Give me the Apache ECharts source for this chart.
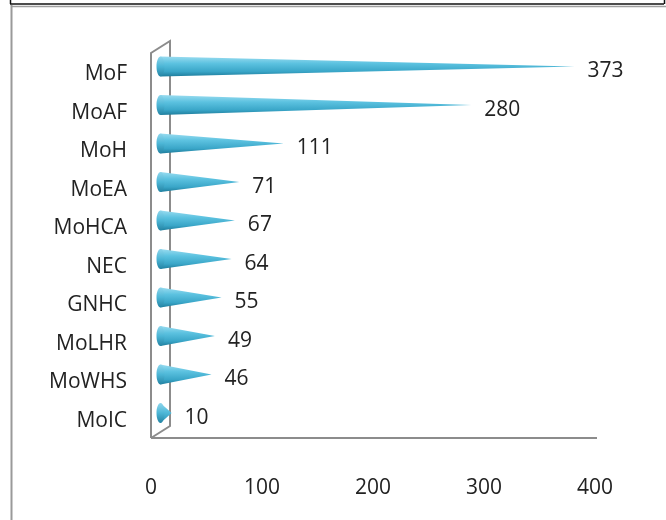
<!DOCTYPE html>
<html>
<head>
<meta charset="utf-8">
<script src="https://cdn.jsdelivr.net/npm/echarts@6/dist/echarts.min.js"></script>
<style>
  html, body { margin: 0; padding: 0; background: #fff; }
  #chart { width: 666px; height: 520px; }
</style>
</head>
<body>
<div id="chart"></div>
<script>
// Submissions per organisation
const categories = ['MoF', 'MoAF', 'MoH', 'MoEA', 'MoHCA', 'NEC', 'GNHC', 'MoLHR', 'MoWHS', 'MoIC'];
const values = [373, 280, 111, 71, 67, 64, 55, 49, 46, 10];
const xTicks = { min: 0, max: 400, interval: 100 };

const GRID = { left: 151, top: 55, width: 444, height: 385 };
const DEPTH = { dx: 19, dy: -12 };     // 3D wall depth offset
const FONT = 'Open Sans';
const FONT_SIZE = 21;
const TEXT_COLOR = '#222222';
const WALL_COLOR = '#8c8c8c';

const coneFill = new echarts.graphic.LinearGradient(0, 0, 0, 1, [
  { offset: 0, color: '#9adcf0' },
  { offset: 0.35, color: '#5cc2e0' },
  { offset: 0.75, color: '#3aa6c8' },
  { offset: 1, color: '#1f7d9c' }
]);
const capFill = new echarts.graphic.LinearGradient(0, 0, 0, 1, [
  { offset: 0, color: '#8fd6ec' },
  { offset: 0.5, color: '#4cb6d6' },
  { offset: 1, color: '#2484a4' }
]);

function renderCone(params, api) {
  const cat = api.value(0);
  const val = api.value(1);
  const base = api.coord([0, cat]);
  const tip = api.coord([val, cat]);
  const cx = base[0] + DEPTH.dx / 2;
  const tx = tip[0] + DEPTH.dx / 2;
  const cy = base[1] + DEPTH.dy * 0.65;
  const r = 10;
  const rx = 4;
  return {
    type: 'group',
    children: [
      {
        type: 'polygon',
        shape: { points: [[cx, cy - r], [tx, cy], [cx, cy + r]] },
        style: { fill: coneFill }
      },
      {
        type: 'ellipse',
        shape: { cx: cx, cy: cy, rx: rx, ry: r },
        style: { fill: capFill }
      },
      {
        type: 'text',
        style: {
          text: String(val),
          x: tx + 13,
          y: base[1] - 3,
          verticalAlign: 'middle',
          align: 'left',
          font: FONT_SIZE + 'px "' + FONT + '"',
          fill: TEXT_COLOR
        }
      }
    ]
  };
}

const chart = echarts.init(document.getElementById('chart'), null, { renderer: 'canvas' });

chart.setOption({
  animation: false,
  backgroundColor: '#ffffff',
  grid: { left: GRID.left, top: GRID.top, width: GRID.width, height: GRID.height },
  xAxis: {
    type: 'value',
    min: xTicks.min,
    max: xTicks.max,
    interval: xTicks.interval,
    axisLine: { show: false },
    axisTick: { show: false },
    splitLine: { show: false },
    axisLabel: { margin: 38, fontFamily: FONT, fontSize: FONT_SIZE, color: TEXT_COLOR }
  },
  yAxis: {
    type: 'category',
    inverse: true,
    data: categories,
    axisLine: { show: false },
    axisTick: { show: false },
    splitLine: { show: false },
    axisLabel: { margin: 24, fontFamily: FONT, fontSize: FONT_SIZE, color: TEXT_COLOR }
  },
  series: [{
    type: 'custom',
    renderItem: renderCone,
    encode: { x: 1, y: 0 },
    data: values.map((v, i) => [i, v]),
    clip: false
  }]
});

// Frame and 3D wall outline, positioned from the grid's own scales
const x0 = chart.convertToPixel({ xAxisIndex: 0 }, xTicks.min);
const x1 = chart.convertToPixel({ xAxisIndex: 0 }, xTicks.max);
const yTop = GRID.top - 2;
const yBot = GRID.top + GRID.height - 2;
const wall = { stroke: WALL_COLOR, lineWidth: 2, fill: null };

chart.setOption({
  graphic: [
    // page frame
    { type: 'line', shape: { x1: 10, y1: 4, x2: 664, y2: 4 }, style: { stroke: '#111', lineWidth: 1.5 } },
    { type: 'line', shape: { x1: 10.5, y1: 0, x2: 10.5, y2: 4 }, style: { stroke: '#111', lineWidth: 1.5 } },
    { type: 'line', shape: { x1: 664.5, y1: 0, x2: 664.5, y2: 4 }, style: { stroke: '#111', lineWidth: 1.5 } },
    { type: 'line', shape: { x1: 11, y1: 6.5, x2: 666, y2: 6.5 }, style: { stroke: '#a0a0a0', lineWidth: 1.5 } },
    { type: 'line', shape: { x1: 11.5, y1: 5, x2: 11.5, y2: 520 }, style: { stroke: '#9a9a9a', lineWidth: 2 } },
    // side wall
    { type: 'polyline', shape: { points: [
      [x0, yBot], [x0, yTop], [x0 + DEPTH.dx, yTop + DEPTH.dy], [x0 + DEPTH.dx, yBot + DEPTH.dy], [x0, yBot]
    ] }, style: wall, z: -1 },
    // floor front edge
    { type: 'line', shape: { x1: x0, y1: yBot, x2: x1 + 2, y2: yBot }, style: wall, z: -1 }
  ]
});
</script>
</body>
</html>
